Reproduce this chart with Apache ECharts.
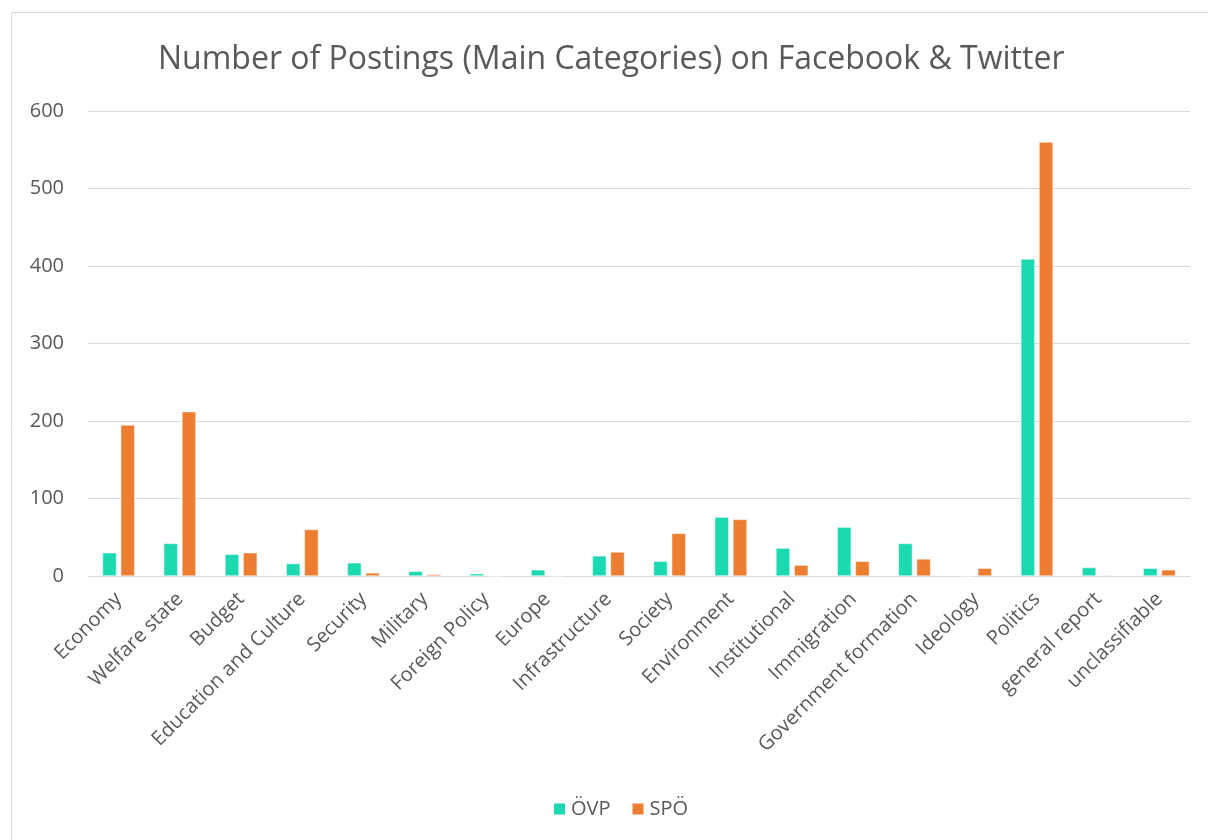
<!DOCTYPE html>
<html>
<head>
<meta charset="utf-8">
<script src="https://cdn.jsdelivr.net/npm/echarts@6/dist/echarts.min.js"></script>
<style>
html,body{margin:0;padding:0;background:#fff;}
#chart{width:1208px;height:840px;}
</style>
</head>
<body>
<div id="chart"></div>
<script>
const titleText = 'Number of Postings (Main Categories) on Facebook & Twitter';
const categories = ['Economy','Welfare state','Budget','Education and Culture','Security','Military','Foreign Policy','Europe','Infrastructure','Society','Environment','Institutional','Immigration','Government formation','Ideology','Politics','general report','unclassifiable'];
const seriesNames = ['ÖVP','SPÖ'];
const ovpValues = [30,42,28,16,17,6,3,8,26,19,76,36,63,42,0,409,11,10];
const spoValues = [195,212,30,60,4,2,0,0,31,55,73,14,19,22,10,560,1,8];
const yTicks = [0,100,200,300,400,500,600];

const font = 'Open Sans';
const textColor = '#595959';
const chart = echarts.init(document.getElementById('chart'));
chart.setOption({
  animation:false,
  backgroundColor:'#ffffff',
  graphic:[{type:'rect',shape:{x:11.5,y:12.5,width:1400,height:1000},style:{fill:'none',stroke:'#d9d9d9',lineWidth:1},silent:true}],
  title:{text:titleText,left:153,top:39,textStyle:{fontFamily:font,fontSize:32,fontWeight:'normal',color:textColor}},
  legend:{data:seriesNames,bottom:16,left:547,itemWidth:13,itemHeight:13,itemGap:20,icon:'rect',
    textStyle:{fontFamily:font,fontSize:20,color:textColor}},
  grid:{left:88,right:18,top:111,bottom:264,containLabel:false},
  xAxis:{type:'category',data:categories,
    axisLine:{lineStyle:{color:'#d9d9d9',width:1}},axisTick:{show:false},
    axisLabel:{rotate:45,interval:0,fontFamily:font,fontSize:20,color:textColor,margin:20}},
  yAxis:{type:'value',min:0,max:600,interval:100,
    axisLine:{show:false},axisTick:{show:false},
    splitLine:{lineStyle:{color:'#d9d9d9',width:1}},
    axisLabel:{fontFamily:font,fontSize:20,color:textColor,margin:24,
      formatter:function(v){return yTicks.indexOf(v)>=0?String(v):'';}}},
  series:[
    {name:seriesNames[0],type:'bar',data:ovpValues,barWidth:14,barGap:'30%',
      itemStyle:{color:'#1BD9B0',borderColor:'#ffffff',borderWidth:0.5}},
    {name:seriesNames[1],type:'bar',data:spoValues,barWidth:14,
      itemStyle:{color:'#ED7D31',borderColor:'#ffffff',borderWidth:0.5}}
  ]
});
</script>
</body>
</html>
